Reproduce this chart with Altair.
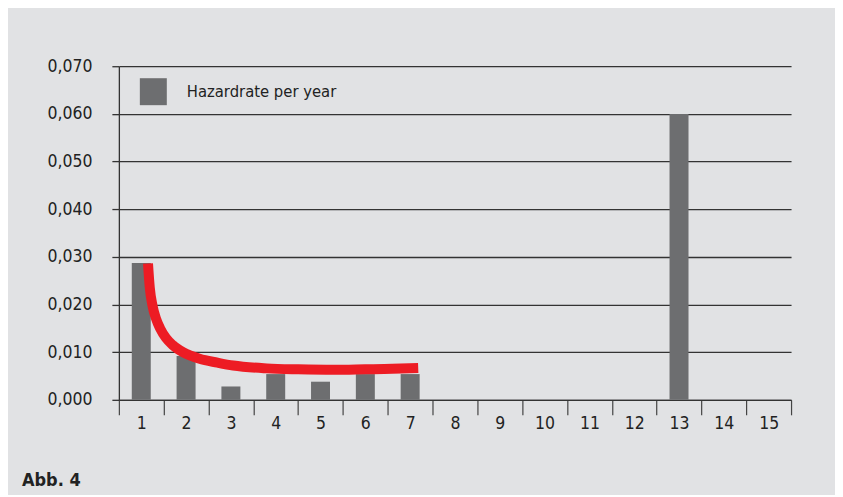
import altair as alt
import pandas as pd

# ---- data ----
years = list(range(1, 16))
hazard = [0.0287, 0.0092, 0.0028, 0.0054, 0.0038, 0.0054, 0.0054,
          0.0, 0.0, 0.0, 0.0, 0.0, 0.0600, 0.0, 0.0]
series_name = "Hazardrate per year"

curve_x = [1.15, 1.19, 1.25, 1.33, 1.42, 1.55, 1.70, 1.93, 2.30, 2.70, 3.05,
           3.80, 4.50, 5.30, 6.00, 6.60, 7.18]
curve_y = [0.0286, 0.0235, 0.0198, 0.0170, 0.0150, 0.0130, 0.0115, 0.0100, 0.0086, 0.0078, 0.0072,
           0.0066, 0.0064, 0.0063, 0.0064, 0.0065, 0.0067]

y_ticks = [0.0, 0.01, 0.02, 0.03, 0.04, 0.05, 0.06, 0.07]
x_boundaries = [0.5 + i for i in range(16)]

bars_df = pd.DataFrame({"year": years, "hazard": hazard, "series": series_name})
curve_df = pd.DataFrame({"t": curve_x, "h": curve_y})

FONT = "DejaVu Sans Condensed"
BG = "#e1e2e4"
BAR = "#6d6e70"
RED = "#ed1c24"
INK = "#222222"

x_scale = alt.Scale(domain=[0.5, 15.5], nice=False, zero=False, padding=0)
y_scale = alt.Scale(domain=[0, 0.07], nice=False, padding=0)

x_axis = alt.Axis(
    values=x_boundaries,
    labelExpr="datum.value < 15 ? format(datum.value + 0.5, 'd') : ''",
    labelOffset=22.43, labelFlush=False, labelOverlap=False, labelBound=False,
    tickSize=15, tickColor="#444444", tickWidth=1.2,
    domainColor="#333333", domainWidth=1.3,
    grid=False, title=None, labelPadding=0,
    labelFontSize=17.5, labelColor=INK, labelFont=FONT, labelFontWeight=500,
)
y_axis = alt.Axis(
    values=y_ticks,
    labelExpr="replace(format(datum.value, '.3f'), '.', ',')",
    tickSize=7, tickColor="#333333", tickWidth=1.3,
    labelPadding=20, labelFontSize=17.5, labelColor=INK, labelFont=FONT, labelFontWeight=500,
    grid=True, gridColor="#333333", gridWidth=1.3,
    domainColor="#333333", domainWidth=1.3, title=None,
)

bars = alt.Chart(bars_df).mark_bar(size=19).encode(
    x=alt.X("year:Q", scale=x_scale, axis=x_axis),
    y=alt.Y("hazard:Q", scale=y_scale, axis=y_axis),
    color=alt.Color(
        "series:N",
        scale=alt.Scale(range=[BAR]),
        legend=alt.Legend(
            title=None, orient="none", legendX=21, legendY=12,
            symbolType="square", symbolSize=729, symbolStrokeWidth=0,
            labelFontSize=16.5, labelFont=FONT, labelColor=INK, labelFontWeight=500,
            labelOffset=20, padding=0, labelLimit=400,
        ),
    ),
)

curve = alt.Chart(curve_df).mark_line(
    color=RED, strokeWidth=10, strokeCap="butt", interpolate="monotone"
).encode(
    x=alt.X("t:Q", scale=x_scale),
    y=alt.Y("h:Q", scale=y_scale),
)

chart = alt.layer(bars, curve).properties(
    width=673,
    height=334,
    title=alt.TitleParams(
        "Abb. 4", orient="bottom", anchor="start", frame="group",
        dx=-97, offset=40, fontSize=18, font=FONT, fontWeight="bold", color=INK,
    ),
    padding={"left": 111, "top": 58, "right": 44, "bottom": 95},
    autosize=alt.AutoSizeParams(type="none"),
).configure(background=BG).configure_view(stroke=None)

chart.save("out.html", embed_options={"renderer": "svg", "actions": False})
